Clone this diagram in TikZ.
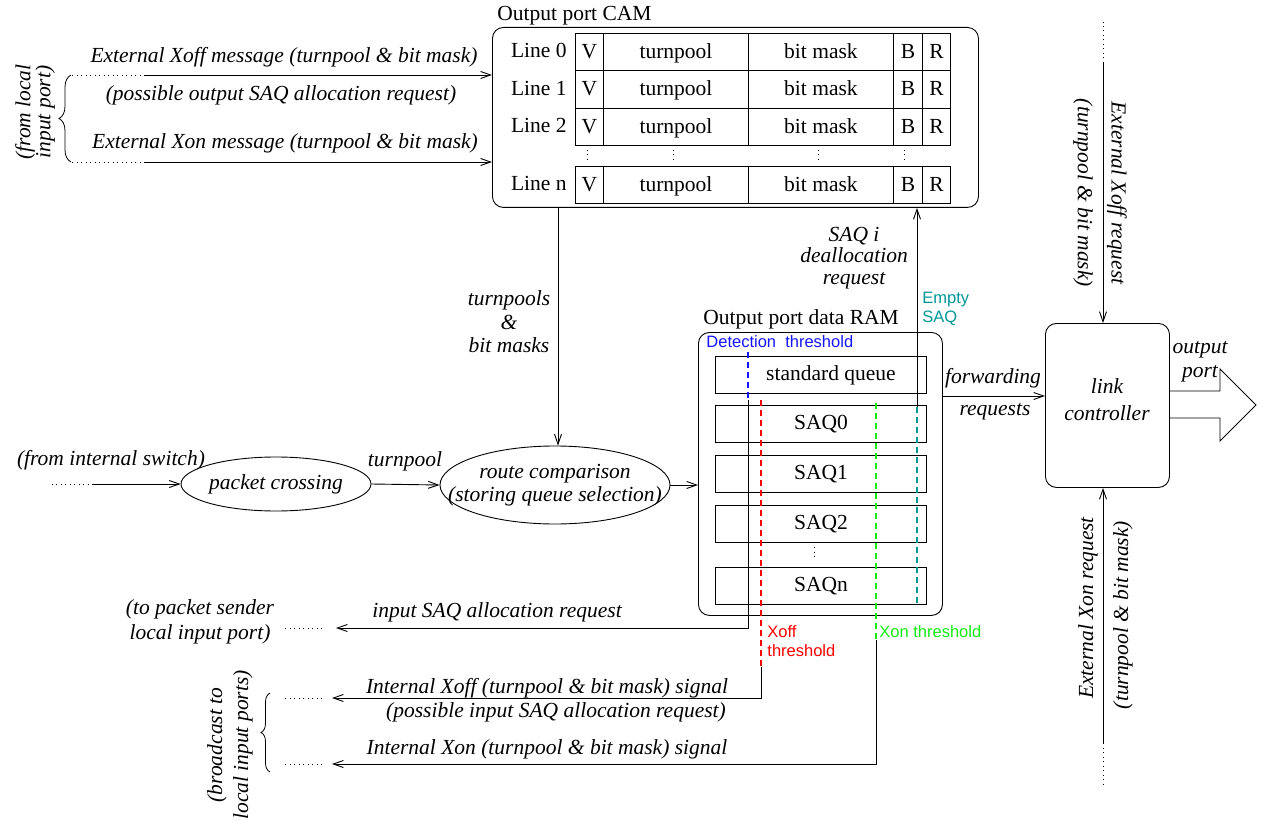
\documentclass[tikz,border=0pt]{standalone}
\usepackage{fontspec}
\setmainfont{Liberation Serif}
\setsansfont{Liberation Sans}
\usetikzlibrary{arrows.meta, decorations.pathreplacing, shapes.geometric}

\definecolor{detblue}{RGB}{20,20,255}
\definecolor{xoffred}{RGB}{255,0,0}
\definecolor{xongreen}{RGB}{20,235,20}
\definecolor{emptyteal}{RGB}{0,150,150}

\tikzset{
  sig/.style={-{Straight Barb[length=10pt,width=7pt]}},
  dots/.style={dash pattern=on 1pt off 3.5pt},
  thr/.style={line width=1.2pt, dash pattern=on 6pt off 4pt},
  txt/.style={font=\fontsize{21.5}{23}\selectfont, inner sep=0pt},
  row/.style={txt, text height=16pt, text depth=4pt},
  lbl/.style={font=\fontsize{21.5}{23}\selectfont\itshape, inner sep=0pt, align=center},
  sans/.style={font=\sffamily\fontsize{16.5}{18.5}\selectfont, inner sep=0pt, align=left},
  cell/.style={draw, row, minimum height=37.5pt, anchor=north west},
  queue/.style={draw, row, minimum width=211pt, minimum height=37pt, anchor=north west},
  panel/.style={draw, rounded corners=11pt, anchor=north west},
  blob/.style={draw, ellipse, inner sep=0pt}
}

\begin{document}
\begin{tikzpicture}[x=1pt, y=-1pt, line width=0.9pt]
\useasboundingbox (0,0) rectangle (1264,821);

\node[panel, minimum width=486pt, minimum height=180pt] (cam) at (492,27) {};
\node[txt, anchor=base west] (camtitle) at (497,21) {Output port CAM};
\foreach \r/\ty in {0/33,1/70.5,2/108,n/166}{
  \node[row, anchor=east] (line\r) at (567,\ty+18.75) {Line \r};
  \foreach \cx/\cw/\ct [count=\k] in {575/28/V,603/145/turnpool,748/145/bit mask,893/29/B,922/28/R}
    \node[cell, minimum width=\cw*1pt] (cell\r\k) at (\cx,\ty) {\ct};
}
\foreach \dx in {587,673,818,904}
  \draw[dots] (\dx,150) -- (\dx,163);

\coordinate (xoffmsg) at (145,75);
\coordinate (xonmsg) at (145,162);
\draw[dots] (xoffmsg) -- +(-73,0);
\draw[sig] (xoffmsg) -- (xoffmsg -| cam.west);
\draw[dots] (xonmsg) -- +(-73,0);
\draw[sig] (xonmsg) -- (xonmsg -| cam.west);
\node[lbl] (xofftxt) at (284,57) {External Xoff message (turnpool \& bit mask)};
\node[lbl] (possout) at (281,95) {(possible output SAQ allocation request)};
\node[lbl] (xontxt) at (285,143) {External Xon message (turnpool \& bit mask)};
\draw[line width=0.8pt, decorate, decoration={brace, amplitude=12pt}] (71,162) -- (71,75);
\node[lbl, rotate=90, font=\fontsize{21.5}{20}\selectfont\itshape] (fromlocal) at (35,112) {(from local\\input port)};

\coordinate (tpout) at ([xshift=66pt]cam.south west);
\node[blob, minimum width=190pt, minimum height=54pt] (pc) at (276,484) {};
\node[lbl] (pctxt) at (pc) {packet crossing};
\node[blob, minimum width=230pt, minimum height=78pt] (rc) at (555,485) {};
\node[lbl] (rctxt) at (rc) {route comparison\\(storing queue selection)};
\draw[sig] (tpout) -- (tpout |- rc.north);
\node[lbl, font=\fontsize{21.5}{23.5}\selectfont\itshape] (tplbl) at (509,322) {turnpools\\\&\\bit masks};
\coordinate (swend) at (93,484);
\draw[dots] (swend) -- +(-43,0);
\draw[sig] (swend) -- (pc.west);
\node[lbl] (swlbl) at (111,460) {(from internal switch)};
\draw[sig] (pc.east) -- (rc.west);
\node[lbl] (tpone) at (405,461) {turnpool};

\node[panel, minimum width=244pt, minimum height=283pt] (ram) at (698,332) {};
\node[txt, anchor=base west] (ramtitle) at (703,324) {Output port data RAM};
\draw[sig] (rc.east) -- (rc.east -| ram.west);
\node[queue] (qs) at (715,356) {};
\node[row] (qstxt) at (831,374.5) {standard queue};
\foreach \q/\ty in {0/405,1/455,2/505,n/567}
  \node[queue] (q\q) at (715,\ty) {SAQ\q};
\draw[dots] (814,547) -- (814,560);

\node[sans, text=detblue, anchor=west] (detlbl) at (706,342) {Detection~~threshold};
\coordinate (det) at (748,400);
\draw[thr, detblue] (748,352) -- (det);
\coordinate (sndtip) at (336,628);
\draw[sig] (det) |- (sndtip);
\coordinate (sndend) at (322,628);
\draw[dots] (sndend) -- +(-39,0);
\node[lbl] (inalloc) at (497,612) {input SAQ allocation request};
\node[lbl, font=\fontsize{21.5}{25}\selectfont\itshape] (sender) at (200,622) {(to packet sender\\local input port)};

\coordinate (xoffth) at (761,667);
\draw[thr, xoffred] (761,400) -- (xoffth);
\coordinate (bcxoff) at (332,698);
\draw[sig] (xoffth) |- (bcxoff);
\node[sans, text=xoffred, anchor=west] (xofflbl) at (767,641) {Xoff\\threshold};

\coordinate (xonth) at (876,640);
\draw[thr, xongreen] (876,403) -- (xonth);
\coordinate (bcxon) at (332,764);
\draw[sig] (xonth) |- (bcxon);
\node[sans, text=xongreen, anchor=west] (xonlbl) at (879,632) {Xon threshold};

\coordinate (bcxoffend) at (322,698);
\coordinate (bcxonend) at (322,764);
\draw[dots] (bcxoffend) -- +(-39,0);
\draw[dots] (bcxonend) -- +(-39,0);
\node[lbl] (intxoff) at (547,688) {Internal Xoff (turnpool \& bit mask) signal};
\node[lbl] (possin) at (556,712) {(possible input SAQ allocation request)};
\node[lbl] (intxon) at (547,749) {Internal Xon (turnpool \& bit mask) signal};
\draw[line width=0.8pt, decorate, decoration={brace, amplitude=9pt}] (270,772) -- (270,693);
\node[lbl, rotate=90, font=\fontsize{21.5}{26}\selectfont\itshape] (bcast) at (230,745) {(broadcast to\\local input ports)};

\coordinate (empty) at (917,407);
\draw[thr, emptyteal] (empty) -- (917,607);
\draw[sig] (empty) -- (empty |- cam.south);
\node[sans, text=emptyteal, anchor=west] (emptylbl) at (922,309) {Empty\\SAQ};
\node[lbl, font=\fontsize{21.5}{21.5}\selectfont\itshape] (dealloc) at (854,258) {SAQ i\\deallocation\\request};

\node[panel, minimum width=124pt, minimum height=164pt] (lc) at (1045,323) {};
\node[lbl, font=\fontsize{21.5}{27}\selectfont\itshape] (lctxt) at (1107,400) {link\\controller};
\coordinate (fwd) at (942,396);
\draw[sig] (fwd) -- (fwd -| lc.west);
\node[lbl, anchor=base] (fwdtop) at (993,383) {forwarding};
\node[lbl, anchor=base] (fwdbot) at (995,415) {requests};

\coordinate (xreq) at (1103,63);
\draw[dots] (xreq) -- (1103,22);
\draw[sig] (xreq) -- (xreq |- lc.north);
\node[lbl, rotate=-90] (xreqtxt) at (1117,193) {External Xoff request};
\node[lbl, rotate=-90] (xreqbm) at (1083,193) {(turnpool \& bit mask)};

\coordinate (xonreq) at (1103,743);
\draw[dots] (xonreq) -- (1103,785);
\draw[sig] (xonreq) -- (xonreq |- lc.south);
\node[lbl, rotate=90] (xonreqtxt) at (1088,608) {External Xon request};
\node[lbl, rotate=90] (xonreqbm) at (1123,615) {(turnpool \& bit mask)};

\draw (lc.east |- 0,391) -- (1220,391) -- (1220,369) -- (1256,405) -- (1220,441) -- (1220,418) -- (lc.east |- 0,418);
\node[lbl, font=\fontsize{21.5}{24}\selectfont\itshape] (portlbl) at (1200,362) {output\\port};
\end{tikzpicture}
\end{document}
